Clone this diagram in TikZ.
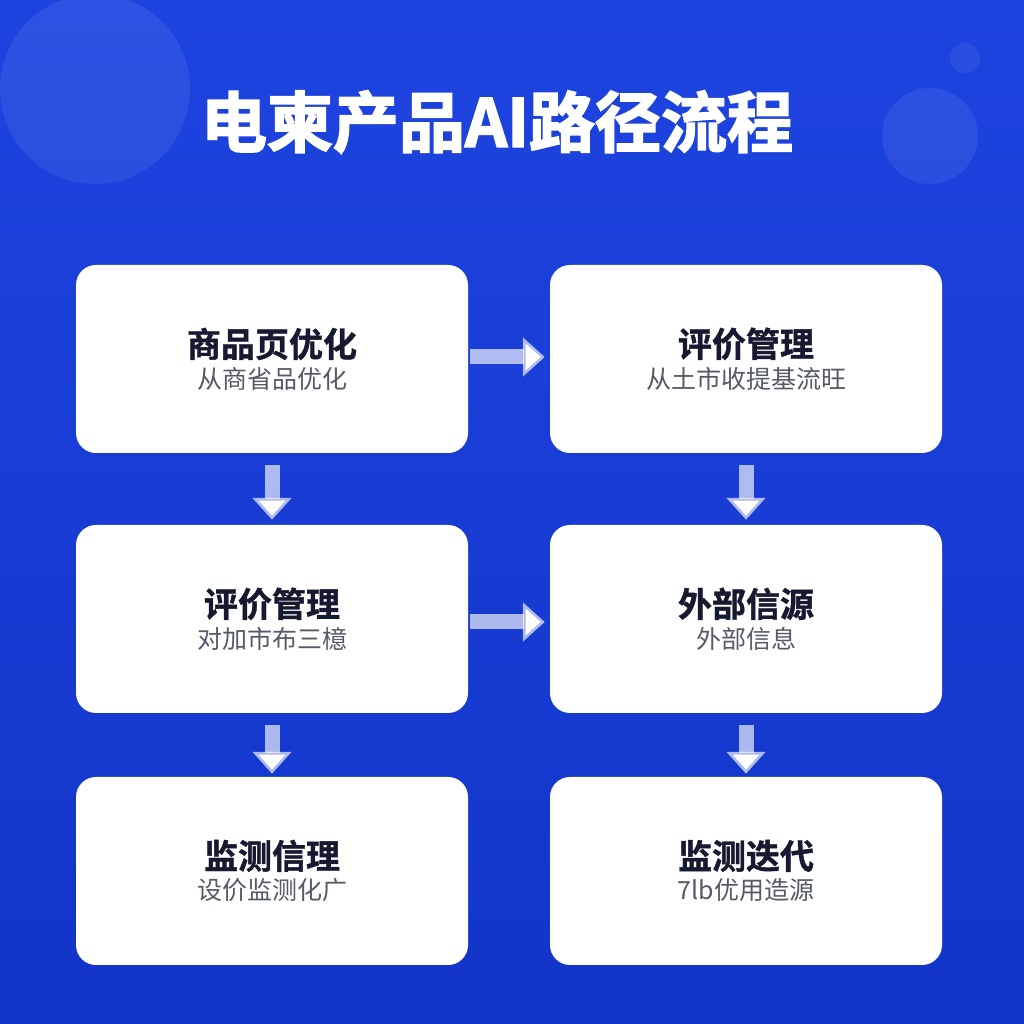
\documentclass[tikz,border=0pt]{standalone}
\usepackage{fontspec}
\setmainfont{Noto Sans CJK SC}
\newfontfamily\cjkb[FakeBold=2.5]{Noto Sans CJK SC Bold}
\newfontfamily\cjkt[FakeBold=1.2]{Noto Sans CJK SC Bold}
\usetikzlibrary{arrows.meta}
\definecolor{bgA}{HTML}{1E44E0}
\definecolor{bgB}{HTML}{1234C8}
\definecolor{ttl}{HTML}{151A30}
\definecolor{sub}{HTML}{555A66}
\tikzset{
 card/.style={fill=white, rounded corners=20pt, minimum width=392pt, minimum height=188pt, align=center, inner sep=0pt},
 flow/.style={draw=white, draw opacity=0.65, line width=15pt, -{Triangle[width=38pt,length=22pt]}},
}
\newcommand{\cardtext}[2]{{\fontsize{34}{40}\selectfont\cjkt\color{ttl}#1}\\[6pt]{\fontsize{25}{30}\selectfont\color{sub}#2}}
\begin{document}
\begin{tikzpicture}[x=1pt,y=1pt]
\useasboundingbox (0,0) rectangle (1024,1024);
\shade[top color=bgA, bottom color=bgB] (0,0) rectangle (1024,1024);
\fill[white, opacity=0.07] (95,935) circle (95);
\fill[white, opacity=0.07] (930,888) circle (48);
\fill[white, opacity=0.06] (965,966) circle (15);
\node[text=white, font=\fontsize{66}{70}\selectfont\cjkb] (title) at (497,902) {电柬产品AI路径流程};
\node[card] (a) at (272,665) {\cardtext{商品页优化}{从商省品优化}};
\node[card] (b) at (746,665) {\cardtext{评价管理}{从土市收提基流旺}};
\node[card] (c) at (272,405) {\cardtext{评价管理}{对加市布三檍}};
\node[card] (d) at (746,405) {\cardtext{外部信源}{外部信息}};
\node[card] (e) at (272,153) {\cardtext{监测信理}{设价监测化广}};
\node[card] (f) at (746,153) {\cardtext{监测迭代}{7lb优用造源}};
\draw[flow, shorten <=2pt, shorten >=5pt] ([yshift=2pt]a.east) -- ([yshift=2pt]b.west);
\draw[flow, shorten <=2pt, shorten >=5pt] ([yshift=-3pt]c.east) -- ([yshift=-3pt]d.west);
\draw[flow, shorten <=12pt, shorten >=5pt] (a.south) -- (c.north);
\draw[flow, shorten <=12pt, shorten >=5pt] (b.south) -- (d.north);
\draw[flow, shorten <=12pt, shorten >=3pt] (c.south) -- (e.north);
\draw[flow, shorten <=12pt, shorten >=3pt] (d.south) -- (f.north);
\end{tikzpicture}
\end{document}
